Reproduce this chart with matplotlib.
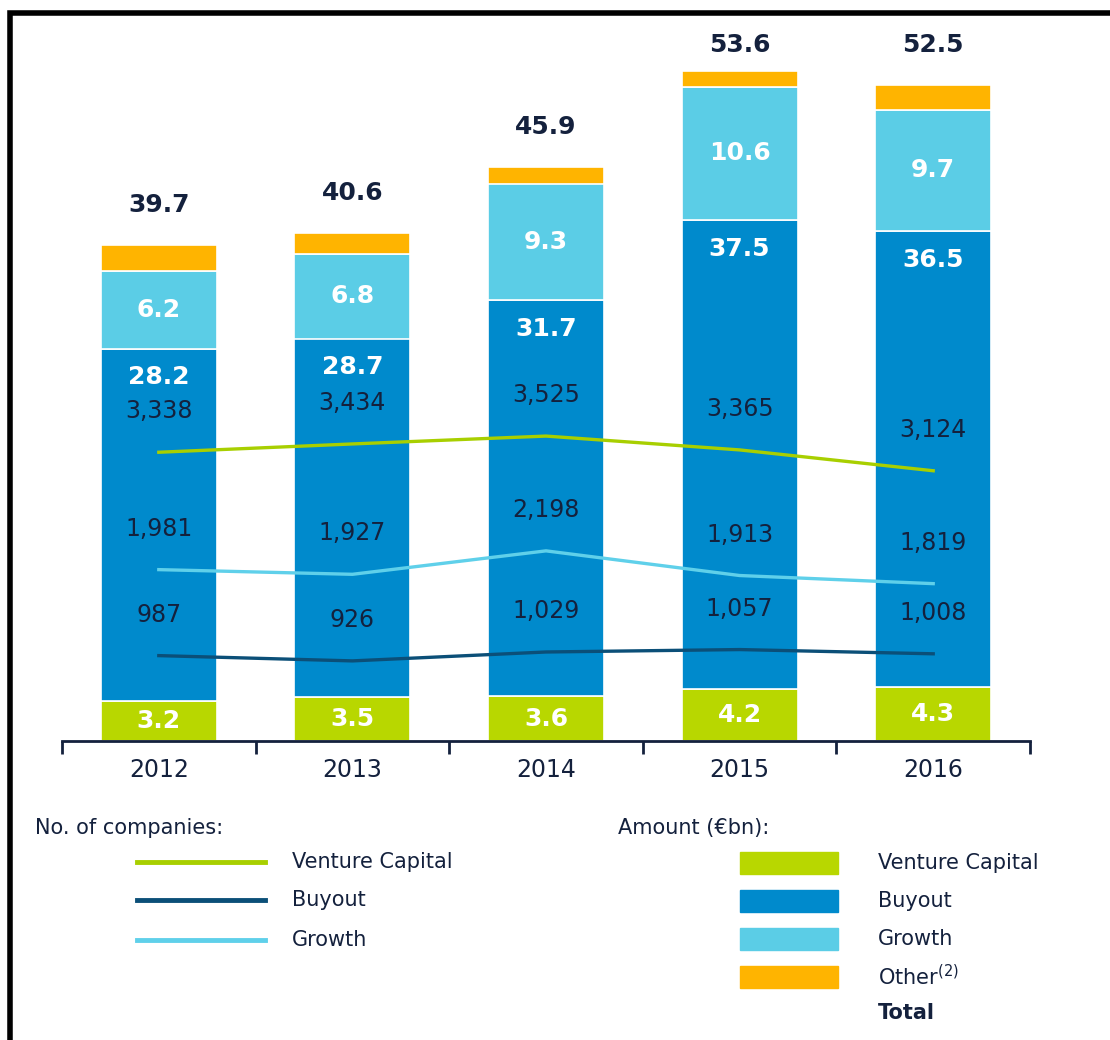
import matplotlib
import numpy as np

matplotlib.use("Agg")
import matplotlib.pyplot as plt
from matplotlib.lines import Line2D
from matplotlib.patches import Rectangle

years = ["2012", "2013", "2014", "2015", "2016"]
vc_amt = [3.2, 3.5, 3.6, 4.2, 4.3]
buyout_amt = [28.2, 28.7, 31.7, 37.5, 36.5]
growth_amt = [6.2, 6.8, 9.3, 10.6, 9.7]
other_amt = [2.1, 1.6, 1.3, 1.3, 2.0]
totals = [39.7, 40.6, 45.9, 53.6, 52.5]

vc_cnt = [3338, 3434, 3525, 3365, 3124]
buyout_cnt = [987, 926, 1029, 1057, 1008]
growth_cnt = [1981, 1927, 2198, 1913, 1819]

C_VC = "#b8d700"
C_BUY = "#008acc"
C_GRO = "#5bcde6"
C_OTH = "#ffb400"
L_VC = "#a8cf00"
L_BUY = "#0b4f78"
L_GRO = "#5fd0ea"
TXT = "#14213d"

W, H = 1110, 1040
fig = plt.figure(figsize=(W / 100, H / 100), dpi=100)
fx = lambda px: px / W
fy = lambda py: 1 - py / H

ymax = 57
ax = fig.add_axes([fx(62), fy(741), fx(1030) - fx(62), ymax * 12.5 / H])
x = np.arange(len(years))
bw = 0.6
b0 = np.zeros(len(years))
for vals, col in [(vc_amt, C_VC), (buyout_amt, C_BUY), (growth_amt, C_GRO), (other_amt, C_OTH)]:
    ax.bar(x, vals, bw, bottom=b0, color=col, edgecolor="white", linewidth=1.2, zorder=2)
    b0 = b0 + np.array(vals)

lab = dict(ha="center", va="center", color="white", fontsize=18, fontweight="bold", zorder=3)
for i in range(len(years)):
    ax.text(i, vc_amt[i] / 2, f"{vc_amt[i]}", **lab)
    ax.text(i, vc_amt[i] + buyout_amt[i] - 2.3, f"{buyout_amt[i]}", **lab)
    ax.text(i, vc_amt[i] + buyout_amt[i] + growth_amt[i] / 2, f"{growth_amt[i]}", **lab)
    ax.text(i, min(totals[i] + 3.2, 55.7), f"{totals[i]}", ha="center", va="center",
            color=TXT, fontsize=18, fontweight="bold")

ax.set_xlim(-0.5, 4.5)
ax.set_ylim(0, ymax)
for s in ["top", "right", "left"]:
    ax.spines[s].set_visible(False)
ax.spines["bottom"].set_color(TXT)
ax.spines["bottom"].set_linewidth(2)
ax.set_yticks([])
ax.set_xticks(np.arange(-0.5, 5, 1))
ax.set_xticklabels([])
ax.tick_params(axis="x", which="major", length=9, width=2, color=TXT, direction="out")
ax.set_xticks(x, minor=True)
ax.set_xticklabels(years, minor=True, fontsize=17, color=TXT)
ax.tick_params(axis="x", which="minor", length=0, pad=12)

ax2 = ax.twinx()
ax2.set_ylim(0, ymax * 144.5)
ax2.axis("off")
for cnt, col in [(vc_cnt, L_VC), (growth_cnt, L_GRO), (buyout_cnt, L_BUY)]:
    ax2.plot(x, cnt, color=col, linewidth=2.4, zorder=4)
    for i, v in enumerate(cnt):
        ax2.annotate(f"{v:,}", (i, v), xytext=(0, 29.5), textcoords="offset points",
                     ha="center", va="center", fontsize=17, color=TXT)

# legend
lg = dict(fontsize=15, color=TXT, va="center", ha="left")
fig.text(fx(35), fy(828), "No. of companies:", **lg)
fig.text(fx(618), fy(828), "Amount (\u20acbn):", **lg)
for py, col, name in [(862, L_VC, "Venture Capital"), (900, L_BUY, "Buyout"), (940, L_GRO, "Growth")]:
    fig.add_artist(Line2D([fx(137), fx(265)], [fy(py), fy(py)], color=col, linewidth=3.5))
    fig.text(fx(292), fy(py), name, **lg)
for py, col, name in [(863, C_VC, "Venture Capital"), (901, C_BUY, "Buyout"),
                      (939, C_GRO, "Growth"), (977, C_OTH, "Other$^{(2)}$")]:
    fig.add_artist(Rectangle((fx(740), fy(py + 11)), fx(838) - fx(740), 22 / H, color=col))
    fig.text(fx(878), fy(py), name, **lg)
fig.text(fx(878), fy(1013), "Total", fontsize=15, color=TXT, va="center", ha="left", fontweight="bold")

# frame around the picture
fig.add_artist(Rectangle((fx(10), fy(1060)), fx(1120) - fx(10), 1047 / H, fill=False,
                         edgecolor="black", linewidth=4, transform=fig.transFigure))

fig.savefig("out.png", dpi=100)
print("wrote out.png")
